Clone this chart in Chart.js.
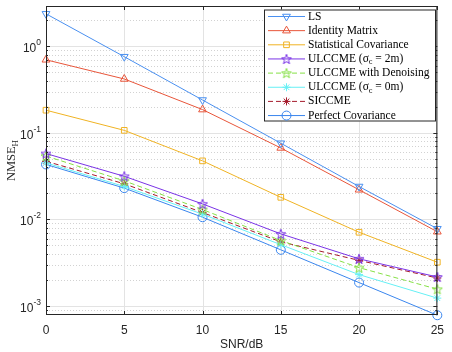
<!DOCTYPE html>
<html>
<head>
<meta charset="utf-8">
<script src="https://cdn.jsdelivr.net/npm/chart.js@4/dist/chart.umd.min.js"></script>
<style>
html,body{margin:0;padding:0;background:#fff;}
#wrap{width:452px;height:352px;position:relative;}
</style>
</head>
<body>
<div id="wrap"><canvas id="c" width="452" height="352"></canvas></div>
<script>
const snr = [0, 5, 10, 15, 20, 25];
const lsVals = [2.38, 0.76, 0.24, 0.076, 0.024, 0.0078];
const identityVals = [0.70, 0.42, 0.186, 0.067, 0.022, 0.0072];
const statVals = [0.183, 0.107, 0.0475, 0.018, 0.0071, 0.0032];
const ulc2Vals = [0.0577, 0.0315, 0.0151, 0.0068, 0.0035, 0.00216];
const denoiseVals = [0.054, 0.0279, 0.013, 0.0057, 0.00277, 0.00156];
const ulc0Vals = [0.045, 0.024, 0.0115, 0.0051, 0.0023, 0.00123];
const sicVals = [0.047, 0.0258, 0.012, 0.0055, 0.00336, 0.0021];
const perfVals = [0.0432, 0.023, 0.0106, 0.00445, 0.00186, 0.00078];
const seriesNames = ["LS", "Identity Matrix", "Statistical Covariance", "ULCCME (σ_c = 2m)",
  "ULCCME with Denoising", "ULCCME (σ_c = 0m)", "SICCME", "Perfect Covariance"];
const xTicks = [0, 5, 10, 15, 20, 25];
const yDecades = [-3, -2, -1, 0];
const xTitle = "SNR/dB";
const yTitle = "NMSE_H";

const SANS = '"Liberation Sans", Arial, sans-serif';
const SERIF = '"Liberation Serif", "Times New Roman", serif';
const AX = '#262626';

function makeStar(color, size) {
  const c = document.createElement('canvas');
  c.width = size; c.height = size;
  const g = c.getContext('2d');
  g.strokeStyle = color; g.lineWidth = 1;
  g.beginPath();
  const cx = size / 2, cy = size / 2 + 0.5, R = size / 2 - 0.8, r = R * 0.40;
  for (let i = 0; i < 10; i++) {
    const a = -Math.PI / 2 + i * Math.PI / 5;
    const rad = i % 2 ? r : R;
    const px = cx + rad * Math.cos(a), py = cy + rad * Math.sin(a);
    if (i === 0) g.moveTo(px, py); else g.lineTo(px, py);
  }
  g.closePath(); g.stroke();
  return c;
}

const colors = ['#4a90f0', '#e8553a', '#f0b323', '#7a33e6', '#85e045', '#66f0f5', '#a51b2c', '#3a86ee'];
const styles = [
  {pointStyle: 'triangle', rotation: 180, radius: 4.5},
  {pointStyle: 'triangle', rotation: 0, radius: 4.5},
  {pointStyle: 'rect', rotation: 0, radius: 4},
  {pointStyle: makeStar(colors[3], 12), rotation: 0, radius: 5},
  {pointStyle: makeStar(colors[4], 12), rotation: 0, radius: 5},
  {pointStyle: 'star', rotation: 0, radius: 4},
  {pointStyle: 'star', rotation: 0, radius: 4},
  {pointStyle: 'circle', rotation: 0, radius: 4.5}
];
const dashes = [[], [], [], [], [5, 3], [], [5, 3], []];
const valueSets = [lsVals, identityVals, statVals, ulc2Vals, denoiseVals, ulc0Vals, sicVals, perfVals];

const datasets = valueSets.map((vals, i) => ({
  label: seriesNames[i],
  data: snr.map((x, j) => ({x: x, y: vals[j]})),
  borderColor: colors[i],
  backgroundColor: 'rgba(0,0,0,0)',
  borderWidth: 1,
  borderDash: dashes[i],
  pointStyle: styles[i].pointStyle,
  pointRotation: styles[i].rotation,
  pointRadius: styles[i].radius,
  pointBorderColor: colors[i],
  pointBackgroundColor: 'rgba(0,0,0,0)',
  pointBorderWidth: 1,
  pointHoverRadius: styles[i].radius,
  tension: 0,
  clip: 10
}));

function isPow10(v) {
  const l = Math.log10(v);
  return Math.abs(l - Math.round(l)) < 1e-6;
}
function isMinor(v) {
  const e = Math.floor(Math.log10(v) + 1e-9);
  const m = v / Math.pow(10, e);
  return Math.abs(m - Math.round(m)) < 1e-6 && Math.round(m) > 1;
}

// draw text with "_x" subscripts
function drawRich(ctx, str, x, y, size, family) {
  const parts = [];
  let i = 0, buf = '';
  while (i < str.length) {
    if (str[i] === '_' && i + 1 < str.length) {
      if (buf) parts.push({t: buf, sub: false});
      buf = '';
      parts.push({t: str[i + 1], sub: true});
      i += 2;
    } else { buf += str[i]; i++; }
  }
  if (buf) parts.push({t: buf, sub: false});
  let cx = x;
  parts.forEach(p => {
    ctx.font = (p.sub ? size * 0.72 : size) + 'px ' + family;
    ctx.fillText(p.t, cx, p.sub ? y + size * 0.28 : y);
    cx += ctx.measureText(p.t).width;
  });
  return cx - x;
}
function measureRich(ctx, str, size, family) {
  const c = document.createElement('canvas').getContext('2d');
  c.textBaseline = 'alphabetic';
  return drawRich(c, str, 0, 0, size, family);
}

const decor = {
  id: 'decor',
  beforeDatasetsDraw(chart) {
    const ctx = chart.ctx, a = chart.chartArea;
    const ys = chart.scales.y, xs = chart.scales.x;
    ctx.save();
    // minor dotted grid
    ctx.strokeStyle = '#d2d2d2';
    ctx.lineWidth = 1;
    ctx.setLineDash([1, 2]);
    ys.ticks.forEach(t => {
      if (isMinor(t.value)) {
        const py = Math.round(ys.getPixelForValue(t.value)) + 0.5;
        ctx.beginPath(); ctx.moveTo(a.left, py); ctx.lineTo(a.right, py); ctx.stroke();
      }
    });
    ctx.setLineDash([]);
    // major grid
    ctx.strokeStyle = '#e3e3e3';
    yDecades.forEach(d => {
      const py = Math.round(ys.getPixelForValue(Math.pow(10, d))) + 0.5;
      ctx.beginPath(); ctx.moveTo(a.left, py); ctx.lineTo(a.right, py); ctx.stroke();
    });
    xTicks.forEach(v => {
      const px = Math.round(xs.getPixelForValue(v)) + 0.5;
      ctx.beginPath(); ctx.moveTo(px, a.top); ctx.lineTo(px, a.bottom); ctx.stroke();
    });
    ctx.restore();
  },
  afterDatasetsDraw(chart) {
    const ctx = chart.ctx, a = chart.chartArea;
    const ys = chart.scales.y, xs = chart.scales.x;
    ctx.save();
    // box
    ctx.strokeStyle = AX; ctx.lineWidth = 1;
    ctx.strokeRect(a.left + 0.5, a.top + 0.5, a.right - a.left - 1, a.bottom - a.top - 1);
    // tick marks
    ys.ticks.forEach(t => {
      let len = 0;
      if (isPow10(t.value)) len = 4; else if (isMinor(t.value)) len = 2;
      if (!len) return;
      const py = Math.round(ys.getPixelForValue(t.value)) + 0.5;
      ctx.beginPath();
      ctx.moveTo(a.left, py); ctx.lineTo(a.left + len, py);
      ctx.moveTo(a.right, py); ctx.lineTo(a.right - len, py);
      ctx.stroke();
    });
    xTicks.forEach(v => {
      const px = Math.round(xs.getPixelForValue(v)) + 0.5;
      ctx.beginPath();
      ctx.moveTo(px, a.bottom); ctx.lineTo(px, a.bottom - 4);
      ctx.moveTo(px, a.top); ctx.lineTo(px, a.top + 4);
      ctx.stroke();
    });
    // y tick labels 10^n
    ctx.fillStyle = AX;
    ctx.textBaseline = 'alphabetic';
    yDecades.forEach(d => {
      const py = ys.getPixelForValue(Math.pow(10, d));
      const exp = d < 0 ? '-' + (-d) : String(d);
      ctx.font = '8.5px ' + SANS;
      const we = ctx.measureText(exp).width;
      ctx.font = '12px ' + SANS;
      const wb = ctx.measureText('10').width;
      const right = a.left - 5;
      ctx.fillText('10', right - we - wb, py + 6);
      ctx.font = '8.5px ' + SANS;
      ctx.fillText(exp, right - we, py - 1);
    });
    // x title
    ctx.font = '12px ' + SANS;
    ctx.textAlign = 'center';
    ctx.textBaseline = 'middle';
    ctx.fillText(xTitle, (a.left + a.right) / 2, 345);
    // y title
    ctx.save();
    ctx.translate(12, (a.top + a.bottom) / 2);
    ctx.rotate(-Math.PI / 2);
    ctx.textAlign = 'left';
    ctx.textBaseline = 'middle';
    const w = measureRich(ctx, yTitle, 12.5, SERIF);
    drawRich(ctx, yTitle, -w / 2, 0, 12.5, SERIF);
    ctx.restore();

    // legend
    const lx = 264, ly = 9.5, lw = 172, lh = 112;
    ctx.fillStyle = '#fff';
    ctx.fillRect(lx, ly, lw, lh);
    ctx.strokeStyle = AX;
    ctx.lineWidth = 1;
    ctx.strokeRect(lx + 0.5, ly + 0.5, lw - 1, lh - 1);
    chart.data.datasets.forEach((ds, i) => {
      const ry = 16 + i * 14.15;
      ctx.save();
      ctx.strokeStyle = ds.borderColor;
      ctx.lineWidth = 1;
      ctx.setLineDash(ds.borderDash || []);
      ctx.beginPath(); ctx.moveTo(268, ry + 0.5); ctx.lineTo(305, ry + 0.5); ctx.stroke();
      ctx.setLineDash([]);
      ctx.fillStyle = 'rgba(0,0,0,0)';
      Chart.helpers.drawPoint(ctx, {
        pointStyle: ds.pointStyle, rotation: ds.pointRotation,
        radius: ds.pointRadius, borderWidth: 1
      }, 286.5, ry + 0.5);
      ctx.restore();
      ctx.fillStyle = '#000';
      ctx.textAlign = 'left';
      ctx.textBaseline = 'middle';
      drawRich(ctx, ds.label, 308, ry + 0.5, 11.5, SERIF);
    });
    ctx.restore();
  }
};

new Chart(document.getElementById('c'), {
  type: 'line',
  data: {datasets: datasets},
  options: {
    responsive: false,
    animation: false,
    events: [],
    layout: {padding: {top: 2, right: 8, left: 0, bottom: 0}},
    plugins: {legend: {display: false}, tooltip: {enabled: false}},
    scales: {
      x: {
        type: 'linear', min: 0, max: 25,
        afterFit: s => { s.height = 37; },
        afterBuildTicks: s => { s.ticks = xTicks.map(v => ({value: v})); },
        grid: {display: false, drawTicks: false},
        border: {display: false},
        ticks: {padding: 8, color: AX, font: {family: SANS, size: 12}, maxRotation: 0}
      },
      y: {
        type: 'logarithmic', min: 7.85e-4, max: 2.93,
        afterFit: s => { s.width = 46; },
        grid: {display: false, drawTicks: false},
        border: {display: false},
        ticks: {display: false, autoSkip: false}
      }
    }
  },
  plugins: [decor]
});
</script>
</body>
</html>
